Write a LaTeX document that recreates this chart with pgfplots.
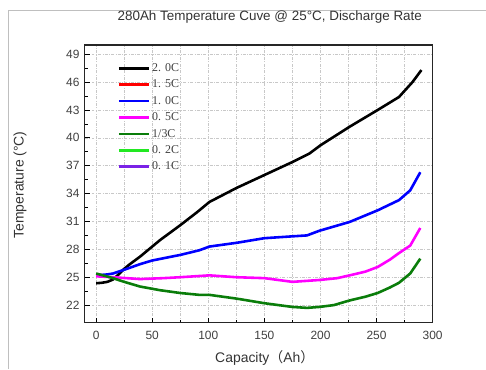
\documentclass[border=0pt]{standalone}
\usepackage{fontspec}
\setmainfont{Liberation Sans}
\newfontfamily\legfont{Liberation Serif}
\newfontfamily\cjk{Noto Sans CJK SC}
\usepackage{pgfplots}
\pgfplotsset{compat=1.18}
\definecolor{ticktxt}{HTML}{404040}
\definecolor{gridc}{HTML}{C8C8C8}
\definecolor{dgreen}{HTML}{0A7D0A}
\definecolor{bgreen}{HTML}{22E822}
\definecolor{violet}{HTML}{7A22E6}
\definecolor{mag}{HTML}{FF00FF}
\definecolor{blu}{HTML}{0000FF}
\definecolor{rd}{HTML}{FF0000}
\begin{document}
\begin{tikzpicture}
\begin{axis}[
  scale only axis,
  width=348bp, height=278bp,
  at={(0,0)}, anchor=south west,
  xmin=-10, xmax=300,
  ymin=20.1, ymax=50,
  xtick={0,50,...,300},
  ytick={22,25,...,49},
  minor x tick num=1,
  minor y tick num=1,
  xmajorgrids, xminorgrids, ymajorgrids,
  grid style={gridc, dash pattern=on 3pt off 1.5pt on 0.6pt off 1.5pt, line width=0.5pt},
  minor grid style={gridc, dash pattern=on 3pt off 1.5pt on 0.6pt off 1.5pt, line width=0.5pt},
  tick align=inside,
  major tick length=5bp, minor tick length=3bp,
  tick style={black, line width=0.8pt},
  axis line style={line width=1.1pt, draw=black!85},
  xtick pos=bottom, ytick pos=left,
  /pgf/number format/assume math mode=true,
  ticklabel style={font=\fontsize{12}{14}\selectfont, text=ticktxt},
  xticklabel style={yshift=-5bp},
  yticklabel style={xshift=-2bp},
  legend style={draw=none, fill=none, at={(rel axis cs:0.085,0.948)}, anchor=north west,
    font=\legfont\fontsize{12}{14}\selectfont, text=ticktxt, row sep=3.0bp},
  legend cell align=left,
  legend image code/.code={\draw[#1, line width=2.6pt] (0bp,0bp) -- (30bp,0bp);},
  every axis plot/.append style={line width=2.6pt},
]
\addplot[black] coordinates {
(0,24.35) (5,24.4) (10,24.5) (15,24.75) (20,25.3) (25,25.9) (30,26.4) (39,27.2)
(50,28.3) (57,29.0) (75,30.6) (90,32.0) (101,33.1) (125,34.6) (150,36.0)
(175,37.4) (190,38.3) (200,39.2) (226,41.2) (251,43.0) (270,44.4) (282,46.0) (290,47.3)
};
\addlegendentry{2. 0C}
\addlegendimage{rd, line width=2.6pt}
\addlegendentry{1. 5C}
\addplot[blu] coordinates {
(0,25.2) (10,25.3) (15,25.4) (25,25.8) (39,26.4) (50,26.8) (75,27.4) (92,27.9)
(101,28.3) (125,28.7) (150,29.2) (175,29.4) (188,29.5) (199,30.0) (226,30.95)
(251,32.2) (270,33.3) (280,34.35) (289,36.3)
};
\addlegendentry{1. 0C}
\addplot[mag] coordinates {
(0,25.1) (15,25.0) (39,24.8) (60,24.9) (75,25.0) (101,25.2) (125,25.0) (150,24.9)
(175,24.5) (199,24.7) (215,24.9) (226,25.2) (240,25.6) (251,26.1) (262,26.9)
(270,27.6) (280,28.4) (289,30.3)
};
\addlegendentry{0. 5C}
\addplot[dgreen] coordinates {
(0,25.4) (15,24.9) (25,24.5) (39,24.0) (57,23.6) (75,23.3) (92,23.1) (101,23.1)
(125,22.7) (150,22.2) (175,21.8) (188,21.7) (199,21.8) (212,22.0) (226,22.5)
(240,22.9) (251,23.3) (262,23.9) (270,24.4) (280,25.4) (289,27.0)
};
\addlegendentry{1/3C}
\addlegendimage{bgreen, line width=2.6pt}
\addlegendentry{0. 2C}
\addlegendimage{violet, line width=2.6pt}
\addlegendentry{0. 1C}
\end{axis}
% page frame and outer texts (axis box lower-left at origin, 1bp = 1px)
\draw[gray!50, line width=0.8pt] (-77bp,-46bp) -- (-77bp,313bp) -- (401bp,313bp);
\node[font=\fontsize{13.5}{15}\selectfont, text=black!80] at (185bp,306bp) {280Ah Temperature Cuve @ 25°C, Discharge Rate};
\node[font=\fontsize{14}{16}\selectfont, text=black!80, rotate=90] at (-65bp,138bp) {Temperature (°C)};
\node[font=\fontsize{14}{16}\selectfont, text=black!80] at (180bp,-35bp) {Capacity{\cjk （}Ah{\cjk ）}};
\path (-85bp,-46bp) rectangle (401bp,323bp);
\end{tikzpicture}
\end{document}
